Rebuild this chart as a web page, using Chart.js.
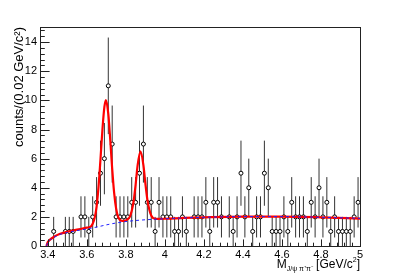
<!DOCTYPE html>
<html>
<head>
<meta charset="utf-8">
<script src="https://cdn.jsdelivr.net/npm/chart.js@4.4.0/dist/chart.umd.min.js"></script>
<style>
  body { margin: 0; background: #fff; }
  canvas { display: block; }
</style>
</head>
<body>
<canvas id="massChart" width="400" height="273"></canvas>
<script>
// histogram binning: 0.02 GeV bins, first bin edge at 3.42
const binStart = 3.42;
const binWidth = 0.02;
const counts = [
  1, 0, 0, 1, 1, 1, 0, 2, 2, 1,
  2, 3, 5, 6, 11, 7, 2, 2, 2, 2,
  3, 3, 5, 7, 3, 3, 1, 3, 2, 2,
  2, 1, 1, 2, 1, 0, 2, 2, 2, 3,
  1, 3, 3, 2, 0, 2, 1, 2, 5, 2,
  4, 1, 2, 2, 5, 4, 1, 1, 1, 2,
  1, 3, 2, 2, 2, 1, 3, 2, 4, 2,
  3, 1, 2, 1, 1, 1, 1, 2, 3
];

// fit curves (signal + background, background only)
const totalFitX = [3.393, 3.40, 3.41, 3.43, 3.46, 3.50, 3.55, 3.60, 3.62, 3.63,
  3.64, 3.65, 3.66, 3.67, 3.68, 3.69, 3.698, 3.71, 3.72, 3.73,
  3.74, 3.75, 3.76, 3.77, 3.78, 3.79, 3.80, 3.81, 3.82, 3.83,
  3.84, 3.85, 3.86, 3.875, 3.89, 3.90, 3.91, 3.92, 3.93, 3.94,
  3.96, 4.00, 4.10, 4.20, 4.40, 4.60, 4.80, 5.00];
const totalFitY = [0, 0.27, 0.42, 0.62, 0.82, 0.98, 1.12, 1.26, 1.33, 1.53,
  1.92, 2.71, 4.08, 5.96, 8.0, 9.55, 10.02, 9.07, 7.3, 5.3,
  3.65, 2.58, 2.02, 1.79, 1.73, 1.72, 1.75, 1.85, 2.0, 2.4,
  3.1, 4.2, 5.5, 6.5, 5.55, 4.3, 3.2, 2.5, 2.1, 1.92,
  1.86, 1.87, 1.93, 1.97, 2.02, 2.02, 1.97, 1.88];
const bkgFitX = [3.393, 3.40, 3.41, 3.43, 3.46, 3.50, 3.55, 3.60, 3.65, 3.70,
  3.75, 3.80, 3.85, 3.90, 4.00, 4.10, 4.20, 4.40, 4.60, 4.80, 5.00];
const bkgFitY = [0, 0.25, 0.4, 0.58, 0.78, 0.93, 1.06, 1.17, 1.3, 1.45,
  1.58, 1.68, 1.75, 1.8, 1.87, 1.93, 1.97, 2.02, 2.02, 1.97, 1.9];

const xTicks = [3.4, 3.6, 3.8, 4.0, 4.2, 4.4, 4.6, 4.8, 5.0];
const xTickLabels = ["3.4", "3.6", "3.8", "4", "4.2", "4.4", "4.6", "4.8", "5"];
const yTicks = [0, 2, 4, 6, 8, 10, 12, 14];
const yTickLabels = ["0", "2", "4", "6", "8", "10", "12", "14"];

const FONT = "'Liberation Sans', Arial, Helvetica, sans-serif";

const points = [];
counts.forEach((n, i) => {
    if (n > 0) points.push({ x: binStart + binWidth * (i + 0.5), y: n });
});

const rootStyle = {
    id: "rootStyle",
    beforeDatasetsDraw(chart) {
        // sqrt(n) error bars under the markers
        const ctx = chart.ctx, xs = chart.scales.x, ys = chart.scales.y;
        ctx.save();
        ctx.strokeStyle = "#333";
        ctx.lineWidth = 1;
        ctx.beginPath();
        points.forEach(p => {
            const px = xs.getPixelForValue(p.x);
            const err = Math.sqrt(p.y);
            ctx.moveTo(px, ys.getPixelForValue(p.y - err));
            ctx.lineTo(px, ys.getPixelForValue(p.y + err));
        });
        ctx.stroke();
        ctx.restore();
    },
    afterDraw(chart) {
        const ctx = chart.ctx, xs = chart.scales.x, ys = chart.scales.y;
        const a = chart.chartArea;
        ctx.save();
        ctx.strokeStyle = "#222";
        ctx.lineWidth = 1;
        ctx.strokeRect(Math.round(a.left) + 0.5, Math.round(a.top) + 0.5,
            Math.round(a.right - a.left), Math.round(a.bottom - a.top));

        // inward ticks, ROOT style
        ctx.beginPath();
        for (let i = 0; i <= 41; i++) {
            const v = 3.36 + i * 0.04;
            const px = Math.round(xs.getPixelForValue(v)) + 0.5;
            const major = xTicks.some(t => Math.abs(t - v) < 1e-6);
            ctx.moveTo(px, a.bottom);
            ctx.lineTo(px, a.bottom - (major ? 6.6 : 3.3));
        }
        for (let i = 0; i <= 37; i++) {
            const v = i * 0.4;
            const py = Math.round(ys.getPixelForValue(v)) + 0.5;
            const major = i % 5 === 0;
            ctx.moveTo(a.left, py);
            ctx.lineTo(a.left + (major ? 9.6 : 4.8), py);
        }
        ctx.stroke();

        // x axis title with sub/superscripts
        const big = "12px " + FONT, small = "7px " + FONT;
        const parts = [
            { t: "M", f: big, dy: 0 },
            { t: "J/\u03c8 \u03c0\u207a\u03c0\u207b", f: small, dy: 3 },
            { t: " [GeV/c", f: big, dy: 0 },
            { t: "2", f: small, dy: -6 },
            { t: "]", f: big, dy: 0 }
        ];
        let total = 0;
        parts.forEach(p => { ctx.font = p.f; p.w = ctx.measureText(p.t).width; total += p.w; });
        let x = a.right - total;
        ctx.fillStyle = "#000";
        ctx.textBaseline = "alphabetic";
        ctx.textAlign = "left";
        parts.forEach(p => {
            ctx.font = p.f;
            ctx.fillText(p.t, x, 268 + p.dy);
            x += p.w;
        });
        ctx.restore();
    }
};

new Chart(document.getElementById("massChart"), {
    type: "scatter",
    data: {
        datasets: [
            {
                label: "background",
                type: "line",
                data: bkgFitX.map((x, i) => ({ x: x, y: bkgFitY[i] })),
                borderColor: "#2020ff",
                borderWidth: 1,
                borderDash: [3, 3],
                pointRadius: 0,
                cubicInterpolationMode: "monotone",
                order: 0
            },
            {
                label: "fit",
                type: "line",
                data: totalFitX.map((x, i) => ({ x: x, y: totalFitY[i] })),
                borderColor: "#ff0000",
                borderWidth: 2.2,
                pointRadius: 0,
                cubicInterpolationMode: "monotone",
                order: 1
            },
            {
                label: "data",
                data: points,
                pointRadius: 2,
                pointBorderWidth: 1,
                pointBackgroundColor: "#fff",
                pointBorderColor: "#000",
                order: 2
            }
        ]
    },
    options: {
        responsive: false,
        animation: false,
        layout: { padding: { left: 0, right: 40, top: 27, bottom: 0 } },
        plugins: { legend: { display: false }, tooltip: { enabled: false } },
        scales: {
            x: {
                type: "linear",
                min: 3.36,
                max: 5.0,
                grid: { display: false, drawTicks: false },
                border: { display: false },
                afterBuildTicks: s => { s.ticks = xTicks.map(v => ({ value: v })); },
                afterFit: s => { s.height = 27; },
                ticks: {
                    autoSkip: false,
                    maxRotation: 0,
                    padding: 2,
                    color: "#000",
                    font: { family: FONT, size: 11 },
                    callback: (v, i) => xTickLabels[i]
                }
            },
            y: {
                min: 0,
                max: 15.04,
                grid: { display: false, drawTicks: false },
                border: { display: false },
                afterBuildTicks: s => { s.ticks = yTicks.map(v => ({ value: v })); },
                afterFit: s => { s.width = 40; },
                ticks: {
                    autoSkip: false,
                    padding: 3,
                    color: "#000",
                    font: { family: FONT, size: 11 },
                    callback: (v, i) => yTickLabels[i]
                },
                title: {
                    display: true,
                    text: "counts/(0.02 GeV/c\u00b2)",
                    align: "end",
                    color: "#000",
                    font: { family: FONT, size: 13 },
                    padding: { top: 12, bottom: 0 }
                }
            }
        }
    },
    plugins: [rootStyle]
});
</script>
</body>
</html>
